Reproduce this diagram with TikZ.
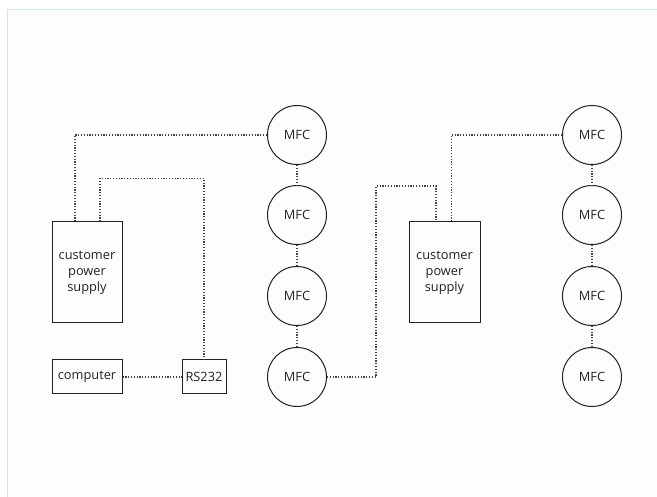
\documentclass[tikz,border=0pt]{standalone}
\usepackage{fontspec}
\setmainfont{Open Sans}
\usepackage{xcolor}
\usepackage{tikz}
\usetikzlibrary{positioning,calc}
\definecolor{rigink}{HTML}{222222}
\definecolor{rigdots}{HTML}{444444}
\definecolor{rigframe}{HTML}{CFE4EE}
\definecolor{rigpaper}{HTML}{FDFDFD}

\begin{document}
\begin{tikzpicture}[x=1pt,y=-1pt,
    unit/.style={draw=rigink,line width=1pt,rectangle,inner sep=2pt,
        font=\fontsize{12.8}{16}\selectfont,text=rigink,align=center},
    mfc/.style={draw=rigink,line width=1pt,circle,minimum size=59pt,
        inner sep=0pt,font=\fontsize{12.8}{15}\selectfont,text=rigink},
    link/.style={rigdots,line width=1.2pt,dash pattern=on 1.2pt off 1.6pt}]
    \useasboundingbox (0,0) rectangle (657,497);
    \fill[white] (0,0) rectangle (657,497);
    \fill[rigpaper] (7.5,9.5) rectangle (657,497);
    \draw[rigframe,line width=1pt] (7.5,497) -- (7.5,9.5) -- (657,9.5);
    % power supplies and the PC side
    \node[unit,minimum width=70pt,minimum height=101pt] (psuL) at (87,272.5) {customer\\power\\supply};
    \node[unit,minimum width=71pt,minimum height=101pt] (psuR) at (444.5,272.5) {customer\\power\\supply};
    \node[unit,minimum width=70pt,minimum height=34pt] (comp) at (87,377) {computer};
    \node[unit,minimum width=44pt,minimum height=34pt,inner sep=0pt] (rs) at (204,377) {RS232};
    % MFC strings
    \foreach \n/\y in {1/135,2/215,3/296,4/377} {
        \node[mfc] (mL\n) at (297,\y) {MFC};
        \node[mfc] (mR\n) at (592,\y) {MFC};
    }
    \draw[link] (mL1) -- (mL2) -- (mL3) -- (mL4);
    \draw[link] (mR1) -- (mR2) -- (mR3) -- (mR4);
    % wiring
    \draw[link] ([xshift=-12pt]psuL.north) |- (mL1.west);
    \draw[link] ([xshift=13pt]psuL.north) -- ++(0,-43) -| (rs.north);
    \draw[link] (comp.east) -- (rs.west);
    \draw[link] (mL4.east) -- ++(49,0) -- ++(0,-191) -| ([xshift=-8.5pt]psuR.north);
    \draw[link] ([xshift=7pt]psuR.north) |- (mR1.west);
\end{tikzpicture}
\end{document}
